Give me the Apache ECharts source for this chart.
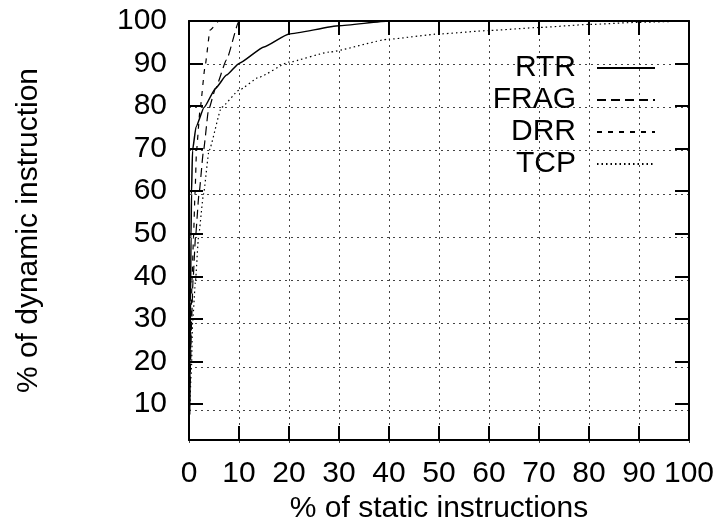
<!DOCTYPE html>
<html>
<head>
<meta charset="utf-8">
<script src="https://cdn.jsdelivr.net/npm/echarts@6/dist/echarts.min.js"></script>
<style>html,body{margin:0;padding:0;background:#fff}#c{width:720px;height:529px}</style>
</head>
<body>
<div id="c"></div>
<script>
// Data: [% static instructions, % dynamic instructions]
const seriesNames = ['RTR', 'FRAG', 'DRR', 'TCP'];
const rtr = [[0.1,9],[0.2,20],[0.3,35],[0.4,50],[0.5,60],[0.7,70],[1.4,75.5],[3,80],[5.3,84.4],[7.5,87.5],[10,90.2],[15,94],[20,97],[30,98.9],[40,100],[100,100]];
const frag = [[0.1,9],[0.3,20],[0.5,30],[0.8,40],[1.3,50],[2.0,60],[2.9,70],[3.9,79.4],[5.3,84.4],[7.5,91],[10,100],[100,100]];
const drr = [[0.1,9],[0.25,20],[0.4,30],[0.6,40],[0.9,50],[1.2,60],[1.5,70],[2.2,79.4],[3.2,89.4],[4.2,97.9],[6,100],[100,100]];
const tcp = [[0.1,9],[0.5,20],[0.7,30],[1.3,40],[1.9,50],[2.9,60],[4.0,70],[6.5,80],[10,84],[14,87],[20,90.5],[28,92.8],[40,95.8],[50,97],[60,97.8],[70,98.5],[80,99.2],[90,99.7],[100,100]];
const yTicks = [10,20,30,40,50,60,70,80,90,100];
const xTitle = '% of static instructions';
const yTitle = '% of dynamic instruction';

const FONT = 'Liberation Sans, Arial, sans-serif';
const chart = echarts.init(document.getElementById('c'), null, {renderer: 'canvas'});
const tick = (extra) => Object.assign({show: true, inside: true, length: 14, lineStyle: {color: '#000', width: 2, type: [40, 0]}}, extra || {});
const line = () => ({show: true, onZero: false, lineStyle: {color: '#000', width: 2, type: [40, 0]}});
const gridLine = () => ({show: true, lineStyle: {color: '#444', width: 1, type: [2, 4]}});
const rect = {left: 189, top: 21, right: 31, bottom: 82, show: false};
const mk = (name, data, type, width) => ({
  name, type: 'line', data, symbol: 'none', smooth: 0.15, smoothMonotone: 'x',
  xAxisIndex: 2, yAxisIndex: 2,
  lineStyle: {color: '#000', width, type}, itemStyle: {color: '#000'},
  emphasis: {disabled: true}, animation: false, z: 3
});
chart.setOption({
  animation: false,
  textStyle: {fontFamily: FONT},
  grid: [Object.assign({}, rect), Object.assign({}, rect)],
  legend: {
    orient: 'vertical', right: 64, top: 53, padding: 0, itemGap: 2,
    align: 'right', itemWidth: 58, itemHeight: 14,
    data: seriesNames,
    itemStyle: {opacity: 0},
    textStyle: {fontSize: 30, color: '#000', fontFamily: FONT, lineHeight: 30, padding: [0, 16, 0, 0]},
    selectedMode: false
  },
  xAxis: [{
    gridIndex: 0, z: 5, type: 'value', min: 0, max: 100, interval: 10,
    name: xTitle, nameLocation: 'middle', nameGap: 48,
    nameTextStyle: {fontSize: 30, color: '#000', fontFamily: FONT},
    axisLine: line(), axisTick: tick(), splitLine: {show: false},
    axisLabel: {fontSize: 30, color: '#000', margin: 19, fontFamily: FONT}
  }, {
    gridIndex: 0, z: 5, type: 'value', min: 0, max: 100, interval: 10, position: 'top',
    axisLine: line(), axisTick: tick(), splitLine: {show: false}, axisLabel: {show: false}
  }, {
    gridIndex: 1, z: 0, type: 'value', min: 0, max: 100, interval: 10, position: 'bottom',
    axisLine: {show: false}, axisTick: {show: false}, axisLabel: {show: false}, splitLine: gridLine()
  }],
  yAxis: [{
    gridIndex: 0, z: 5, type: 'value', min: 1.5, max: 100,
    name: yTitle, nameLocation: 'middle', nameGap: 145,
    nameTextStyle: {fontSize: 30, color: '#000', fontFamily: FONT},
    axisLine: line(), axisTick: tick({customValues: yTicks}),
    splitLine: {show: false},
    axisLabel: {fontSize: 30, color: '#000', margin: 22, fontFamily: FONT, customValues: yTicks}
  }, {
    gridIndex: 0, z: 5, type: 'value', min: 1.5, max: 100, position: 'right',
    axisLine: line(), axisTick: tick({customValues: yTicks}),
    splitLine: {show: false}, axisLabel: {show: false}
  }, {
    gridIndex: 1, z: 0, type: 'value', min: 1.5, max: 100, position: 'left',
    axisLine: {show: false}, axisTick: {show: false, customValues: yTicks},
    axisLabel: {show: false, customValues: yTicks}, splitLine: gridLine()
  }],
  series: [
    mk('RTR', rtr, 'solid', 1.5),
    mk('FRAG', frag, [9, 5], 1.2),
    mk('DRR', drr, [5, 6], 1.2),
    mk('TCP', tcp, [1.5, 3], 1.2)
  ]
});
</script>
</body>
</html>
